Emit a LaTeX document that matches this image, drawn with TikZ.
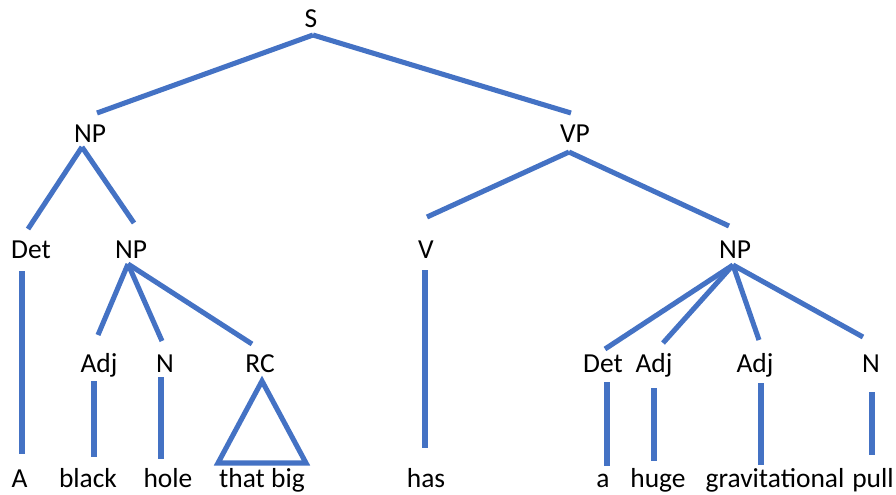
\documentclass[tikz,border=0pt]{standalone}
\usepackage{fontspec}
\setmainfont{Carlito}
\usepackage{tikz}
\usetikzlibrary{calc}
\usepackage{xcolor}
\definecolor{branchblue}{HTML}{4472C4}

\begin{document}
\begin{tikzpicture}[
    x=0.75pt, y=-0.75pt,
    cat/.style={inner sep=0pt, text height=13.3pt, text depth=0pt, font=\fontsize{20.6}{24}\selectfont},
    word/.style={cat},
    branch/.style={draw=branchblue, line width=3.8pt}
]
\useasboundingbox (0,0) rectangle (896,494);

% ---- Phrase nodes ----
\node[cat] (s)   at (311,19)  {S};
\node[cat] (np)  at (90,134)  {NP};
\node[cat] (vp)  at (575,134) {VP};
\node[cat] (det) at (31,250)  {Det};
\node[cat] (npi) at (131,250) {NP};
\node[cat] (v)   at (426,250) {V};
\node[cat] (npo) at (735,250) {NP};
\node[cat] (adj)  at (99,364)  {Adj};
\node[cat] (n)    at (165,364) {N};
\node[cat] (rc)   at (260,364) {RC};
\node[cat] (det2) at (603,364) {Det};
\node[cat] (adj2) at (654,364) {Adj};
\node[cat] (adj3) at (755,364) {Adj};
\node[cat] (n2)   at (871,364) {N};

% ---- Words ----
\node[word] (a)       at (19.5,479) {A};
\node[word] (black)   at (88,479)   {black};
\node[word] (hole)    at (168,479)  {hole};
\node[word] (thatbig) at (262,479)  {that big};
\node[word] (has)     at (426,479)  {has};
\node[word] (a2)      at (603,479)  {a};
\node[word] (huge)    at (658,479)  {huge};
\node[word] (grav)    at (775,479)  {gravitational};
\node[word] (pull)    at (873,479)  {pull};

% ---- Top branches ----
\draw[branch] ([shift={(2,16)}]s.center) -- ([shift={(7,-21)}]np.center);
\draw[branch] ([shift={(2,16)}]s.center) -- ([shift={(-4,-21)}]vp.center);

% ---- Subject NP ----
\draw[branch] ([shift={(-8,13)}]np.center) -- ([shift={(-3,-21)}]det.center);
\draw[branch] ([shift={(-8,13)}]np.center) -- ([shift={(3,-27)}]npi.center);
\draw[branch] ([shift={(-9,21)}]det.center) -- ([shift={(2.5,-25)}]a.center);
\draw[branch] ([shift={(-3,14)}]npi.center) -- ([shift={(-1,-29)}]adj.center);
\draw[branch] ([shift={(-3,14)}]npi.center) -- ([shift={(-3,-23)}]n.center);
\draw[branch] ([shift={(-3,14)}]npi.center) -- ([shift={(-8,-20)}]rc.center);
\draw[branch] ([shift={(-5,17)}]adj.center) -- ([shift={(6,-22)}]black.center);
\draw[branch] ([shift={(-4,13)}]n.center) -- ([shift={(-7,-20)}]hole.center);
\draw[branch, line join=miter] ([shift={(2,17)}]rc.center) -- ([shift={(-44,-16)}]thatbig.center)
    -- ([shift={(44,-16)}]thatbig.center) -- cycle;

% ---- VP ----
\draw[branch] ([shift={(-6,18)}]vp.center) -- ([shift={(1,-33)}]v.center);
\draw[branch] ([shift={(-6,18)}]vp.center) -- ([shift={(-6,-24)}]npo.center);
\draw[branch] ([shift={(-1,20)}]v.center) -- ([shift={(-1,-31)}]has.center);

% ---- Object NP ----
\draw[branch] ([shift={(-2,15)}]npo.center) -- ([shift={(2,-15)}]det2.center);
\draw[branch] ([shift={(-2,15)}]npo.center) -- ([shift={(9,-21)}]adj2.center);
\draw[branch] ([shift={(-2,15)}]npo.center) -- ([shift={(4,-24)}]adj3.center);
\draw[branch] ([shift={(-2,15)}]npo.center) -- ([shift={(-8,-27)}]n2.center);
\draw[branch] ([shift={(4,18)}]det2.center) -- ([shift={(4,-13)}]a2.center);
\draw[branch] ([shift={(0,24)}]adj2.center) -- ([shift={(-4,-18)}]huge.center);
\draw[branch] ([shift={(6,19)}]adj3.center) -- ([shift={(-14,-14)}]grav.center);
\draw[branch] ([shift={(1,28)}]n2.center) -- ([shift={(-1,-24)}]pull.center);

\end{tikzpicture}
\end{document}
